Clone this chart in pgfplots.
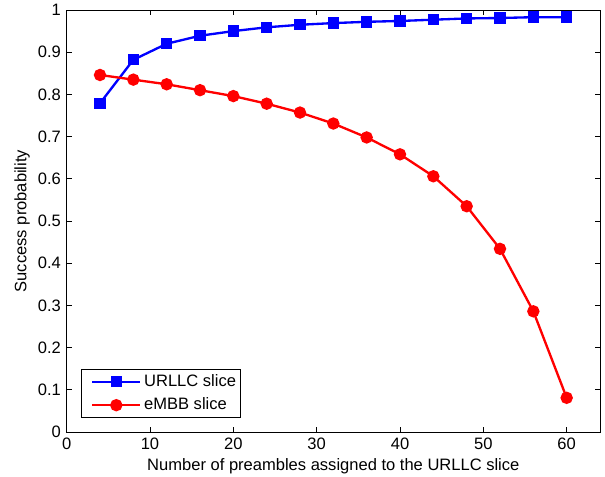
\documentclass[border=0pt]{standalone}
\usepackage{fontspec}
\setmainfont{Liberation Sans}
\usepackage{pgfplots}
\pgfplotsset{compat=1.18}
\usetikzlibrary{calc}
\begin{document}
\fontsize{12.4}{14.8}\selectfont
\begin{tikzpicture}
\begin{axis}[
  scale only axis, width=400pt, height=316.5pt,
  xmin=0, xmax=64, ymin=0, ymax=1,
  xtick={0,10,20,30,40,50,60},
  ytick={0,0.1,0.2,0.3,0.4,0.5,0.6,0.7,0.8,0.9,1},
  tick align=inside, major tick length=3.75pt,
  tick style={black, line width=0.5pt},
  axis line style={black, line width=0.6pt},
  /pgf/number format/assume math mode=true,
  yticklabel style={/pgf/number format/fixed, /pgf/number format/precision=1},
  every tick label/.append style={font=\fontsize{12.4}{14.8}\selectfont},
  xlabel={Number of preambles assigned to the URLLC slice},
  ylabel={Success probability},
  xlabel style={at={(axis description cs:0.5,0)}, anchor=center, yshift=-25.5pt, font=\fontsize{12.4}{14.8}\selectfont},
  ylabel style={at={(axis description cs:0,0.5)}, anchor=center, yshift=33.4pt, font=\fontsize{12.4}{14.8}\selectfont},
  legend style={at={(axis description cs:0.026,0.033)}, anchor=south west, draw=black, line width=0.5pt, font=\fontsize{12.4}{14.8}\selectfont, cells={anchor=west}, row sep=2.7pt, inner xsep=1pt, inner ysep=2pt},
  legend image code/.code={\path (0pt,0pt); \draw[mark repeat=2,mark phase=2,#1] plot coordinates {(6.7pt,0pt)(24.7pt,0pt)(42.7pt,0pt)};},
]
\addplot[blue, line width=1.75pt, mark=square*, mark size=3.4pt, mark options={solid}] coordinates {
(4,0.779) (8,0.882) (12,0.920) (16,0.939) (20,0.950) (24,0.959) (28,0.965) (32,0.969) (36,0.972) (40,0.974) (44,0.977) (48,0.980) (52,0.981) (56,0.983) (60,0.983)};
\addlegendentry{URLLC slice}
\addplot[red, line width=1.75pt, mark=*, mark size=3.75pt, mark options={solid}] coordinates {
(4,0.846) (8,0.835) (12,0.824) (16,0.810) (20,0.796) (24,0.778) (28,0.757) (32,0.731) (36,0.698) (40,0.658) (44,0.606) (48,0.535) (52,0.434) (56,0.286) (60,0.081)};
\addlegendentry{eMBB slice}
\end{axis}
\pgfresetboundingbox
\path[use as bounding box] ($(current axis.south west)+(-50pt,-33pt)$) rectangle ($(current axis.north east)+(3.75pt,7.5pt)$);
\end{tikzpicture}
\end{document}
